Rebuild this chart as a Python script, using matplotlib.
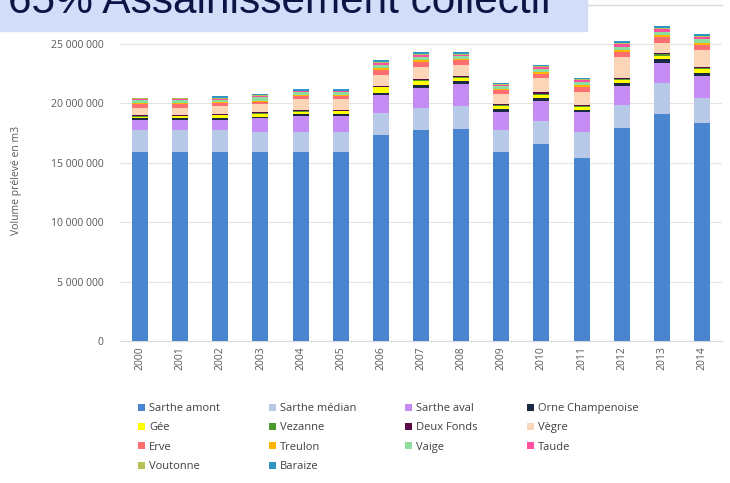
import matplotlib
matplotlib.use('Agg')
import matplotlib.pyplot as plt
import numpy as np
from matplotlib.patches import Rectangle, Patch
from matplotlib.lines import Line2D
from matplotlib.ticker import FuncFormatter

# Data (millions of m3)
years = [str(y) for y in range(2000, 2015)]
sarthe_amont = [15.93, 15.93, 15.93, 15.93, 15.93, 15.93, 17.34, 17.76, 17.82, 15.88, 16.58, 15.43, 17.90, 19.10, 18.32]
sarthe_median = [1.83, 1.83, 1.83, 1.69, 1.69, 1.69, 1.81, 1.82, 1.96, 1.88, 1.94, 2.11, 1.97, 2.59, 2.11]
sarthe_aval = [0.84, 0.85, 0.80, 1.12, 1.30, 1.30, 1.55, 1.69, 1.82, 1.54, 1.63, 1.68, 1.62, 1.68, 1.90]
orne_champenoise = [0.14, 0.14, 0.20, 0.14, 0.20, 0.20, 0.20, 0.28, 0.28, 0.22, 0.28, 0.22, 0.25, 0.34, 0.25]
gee = [0.14, 0.14, 0.22, 0.20, 0.17, 0.20, 0.45, 0.36, 0.28, 0.25, 0.28, 0.28, 0.22, 0.28, 0.28]
vezanne = [0.04, 0.04, 0.05, 0.08, 0.05, 0.05, 0.05, 0.05, 0.07, 0.08, 0.10, 0.07, 0.10, 0.11, 0.11]
deux_fonds = [0.05, 0.05, 0.06, 0.09, 0.05, 0.05, 0.06, 0.06, 0.07, 0.09, 0.10, 0.07, 0.10, 0.11, 0.11]
vegre = [0.67, 0.66, 0.64, 0.67, 0.93, 0.90, 0.95, 1.03, 0.88, 0.81, 1.17, 1.12, 1.76, 0.84, 1.40]
erve = [0.28, 0.28, 0.28, 0.22, 0.28, 0.28, 0.42, 0.42, 0.42, 0.36, 0.42, 0.42, 0.42, 0.56, 0.42]
treulon = [0.08, 0.08, 0.08, 0.08, 0.06, 0.06, 0.14, 0.14, 0.08, 0.10, 0.14, 0.14, 0.14, 0.14, 0.14]
vaige = [0.28, 0.28, 0.22, 0.28, 0.28, 0.28, 0.28, 0.28, 0.28, 0.28, 0.28, 0.28, 0.28, 0.28, 0.36]
taude = [0.08, 0.08, 0.08, 0.10, 0.08, 0.08, 0.14, 0.20, 0.12, 0.08, 0.14, 0.14, 0.22, 0.20, 0.20]
voutonne = [0.05, 0.05, 0.05, 0.05, 0.05, 0.05, 0.06, 0.06, 0.05, 0.05, 0.05, 0.05, 0.06, 0.06, 0.06]
baraize = [0.07, 0.07, 0.14, 0.14, 0.12, 0.12, 0.17, 0.20, 0.14, 0.12, 0.12, 0.10, 0.20, 0.20, 0.17]

series = [
    ('Sarthe amont', sarthe_amont, '#4a86d0'),
    ('Sarthe médian', sarthe_median, '#b8c9e8'),
    ('Sarthe aval', sarthe_aval, '#c58cf5'),
    ('Orne Champenoise', orne_champenoise, '#1b2a44'),
    ('Gée', gee, '#ffff00'),
    ('Vezanne', vezanne, '#4b9a2a'),
    ('Deux Fonds', deux_fonds, '#5a0a46'),
    ('Vègre', vegre, '#fbd5b5'),
    ('Erve', erve, '#ff6f6f'),
    ('Treulon', treulon, '#ffb400'),
    ('Vaige', vaige, '#8fdc9f'),
    ('Taude', taude, '#ff4fa0'),
    ('Voutonne', voutonne, '#b8c05a'),
    ('Baraize', baraize, '#2f95c4'),
]

plt.rcParams['font.family'] = ['Open Sans', 'DejaVu Sans']

fig = plt.figure(figsize=(7.3, 4.83), dpi=100)
ax = fig.add_axes([120 / 730, 142 / 483, 602 / 730, 321 / 483])

x = np.arange(len(years))
bottom = np.zeros(len(years))
for name, vals, col in series:
    v = np.array(vals) * 1e6
    ax.bar(x, v, 0.4, bottom=bottom, color=col, label=name, zorder=3)
    bottom += v

ax.set_xlim(-0.5, len(years) - 0.5)
ax.set_ylim(0, 27e6)
ax.set_yticks(np.arange(0, 25e6 + 1, 5e6))
ax.yaxis.set_major_formatter(FuncFormatter(lambda v, p: f'{v:,.0f}'.replace(',', ' ')))
ax.set_xticks(x)
ax.set_xticklabels(years, rotation=90)
ax.tick_params(axis='y', length=0, pad=12, labelsize=7.5, labelcolor='#595959')
ax.tick_params(axis='x', length=0, pad=4, labelsize=7.5, labelcolor='#595959')
ax.grid(axis='y', color='#e3e3e3', lw=0.8, zorder=0)
for s in ['top', 'right', 'left']:
    ax.spines[s].set_visible(False)
ax.spines['bottom'].set_color('#d9d9d9')

fig.text(17 / 730, 1 - 180 / 483, 'Volume prélevé en m3', rotation=90,
         ha='center', va='center', fontsize=7.5, color='#595959')

# legend reads row by row in the original, matplotlib fills column by column
handles = [Patch(facecolor=c, label=n) for n, _, c in series]
order = [0, 4, 8, 12, 1, 5, 9, 13, 2, 6, 10, 3, 7, 11]
fig.legend(handles=[handles[i] for i in order], ncol=4, loc='upper left',
           bbox_to_anchor=(128 / 730, 1 - 393 / 483), frameon=False,
           fontsize=8, handlelength=0.6, handleheight=0.6, handletextpad=0.4,
           columnspacing=4.4, labelspacing=0.75, labelcolor='#404040')

# title banner of the slide, cut off at the top
fig.patches.append(Rectangle((0, 1 - 31 / 483), 587 / 730, 31 / 483,
                             transform=fig.transFigure, color='#d3dcf9', zorder=5))
fig.text(8 / 730, 1 - 12.7 / 483, '65% Assainissement collectif', family='Liberation Sans',
         fontsize=30.5, color='#0c1445', ha='left', va='baseline', zorder=6)
fig.add_artist(Line2D([587 / 730, 722 / 730], [1 - 4.5 / 483, 1 - 4.5 / 483],
                      transform=fig.transFigure, color='#d9d9d9', lw=1))

fig.savefig('out.png', dpi=100)
